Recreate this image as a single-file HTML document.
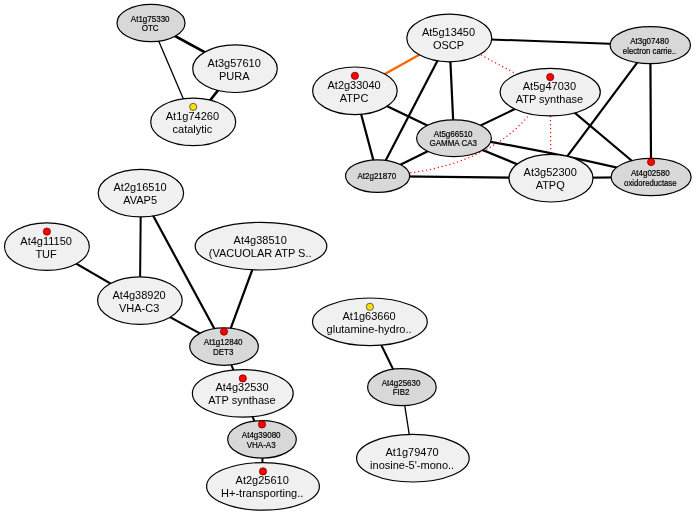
<!DOCTYPE html><html><head><meta charset="utf-8"><style>html,body{margin:0;padding:0;background:#fff;}svg{display:block;will-change:transform;}text{font-family:"Liberation Sans",sans-serif;fill:#000;}</style></head><body>
<svg width="696" height="515" viewBox="0 0 696 515">
<rect width="696" height="515" fill="#fff"/>
<line x1="151" y1="23" x2="235" y2="68.7" stroke="#000" stroke-width="2.6"/>
<line x1="151" y1="23" x2="193.2" y2="121.9" stroke="#000" stroke-width="1.3"/>
<line x1="235" y1="68.7" x2="193.2" y2="121.9" stroke="#000" stroke-width="2.6"/>
<line x1="449.3" y1="38" x2="354.9" y2="90.8" stroke="#ff6600" stroke-width="2.3"/>
<line x1="449.3" y1="38" x2="650.3" y2="45.2" stroke="#000" stroke-width="2"/>
<line x1="449.3" y1="38" x2="377.6" y2="176.1" stroke="#000" stroke-width="2.2"/>
<line x1="449.3" y1="38" x2="454" y2="138.2" stroke="#000" stroke-width="2.2"/>
<line x1="449.3" y1="38" x2="550.2" y2="92.1" stroke="#f00" stroke-width="1.2" stroke-dasharray="1.2,2.8"/>
<line x1="354.9" y1="90.8" x2="377.6" y2="176.1" stroke="#000" stroke-width="2.2"/>
<line x1="354.9" y1="90.8" x2="454" y2="138.2" stroke="#000" stroke-width="2.2"/>
<line x1="550.2" y1="92.1" x2="454" y2="138.2" stroke="#000" stroke-width="2.2"/>
<path d="M533,110.5 L529.1,114.9 C500.5,149.5 456.4,166.2 412.8,172.5 L405,173.5" fill="none" stroke="#f00" stroke-width="1.2" stroke-dasharray="1.2,2.8"/>
<line x1="550.2" y1="92.1" x2="551" y2="178.2" stroke="#f00" stroke-width="1.2" stroke-dasharray="1.2,2.8"/>
<line x1="550.2" y1="92.1" x2="651.1" y2="177" stroke="#000" stroke-width="2.2"/>
<line x1="650.3" y1="45.2" x2="551" y2="178.2" stroke="#000" stroke-width="2.2"/>
<line x1="650.3" y1="45.2" x2="651.1" y2="177" stroke="#000" stroke-width="2.2"/>
<line x1="454" y1="138.2" x2="377.6" y2="176.1" stroke="#000" stroke-width="2.2"/>
<line x1="454" y1="138.2" x2="551" y2="178.2" stroke="#000" stroke-width="2.2"/>
<path d="M454,135.6 Q552.5,151.4 651,175.8" fill="none" stroke="#000" stroke-width="2.2"/>
<line x1="377.6" y1="176.1" x2="551" y2="178.2" stroke="#000" stroke-width="2.2"/>
<line x1="551" y1="178.2" x2="651.1" y2="177" stroke="#000" stroke-width="2.2"/>
<line x1="140.9" y1="193.1" x2="139.9" y2="300.6" stroke="#000" stroke-width="2"/>
<line x1="140.9" y1="193.1" x2="224" y2="346.6" stroke="#000" stroke-width="2.2"/>
<line x1="46.9" y1="246.6" x2="139.9" y2="300.6" stroke="#000" stroke-width="2.2"/>
<line x1="261" y1="246.2" x2="224" y2="346.6" stroke="#000" stroke-width="2.2"/>
<line x1="139.9" y1="300.6" x2="224" y2="346.6" stroke="#000" stroke-width="2.2"/>
<line x1="224" y1="346.6" x2="242.8" y2="393.4" stroke="#000" stroke-width="2"/>
<line x1="242.8" y1="393.4" x2="262" y2="439.4" stroke="#000" stroke-width="2"/>
<line x1="262" y1="439.4" x2="263" y2="486.4" stroke="#000" stroke-width="2"/>
<line x1="369.9" y1="321.8" x2="401.9" y2="387.2" stroke="#000" stroke-width="2"/>
<line x1="401.9" y1="387.2" x2="412.9" y2="458.2" stroke="#000" stroke-width="1.3"/>
<ellipse cx="151" cy="23" rx="34" ry="18.7" fill="#d8d8d8" stroke="#000" stroke-width="1.2"/>
<text transform="translate(150.2,21.8) scale(0.9,1)" font-size="8.9" text-anchor="middle" stroke="#000" stroke-width="0.2">At1g75330</text>
<text transform="translate(150.2,31.2) scale(0.9,1)" font-size="8.9" text-anchor="middle" stroke="#000" stroke-width="0.2">OTC</text>
<ellipse cx="235" cy="68.7" rx="42.3" ry="23.8" fill="#f0f0f0" stroke="#000" stroke-width="1.2"/>
<text x="234.2" y="66.6" font-size="11" text-anchor="middle">At3g57610</text>
<text x="234.2" y="79.6" font-size="11" text-anchor="middle">PURA</text>
<ellipse cx="193.2" cy="121.9" rx="42.5" ry="23.8" fill="#f0f0f0" stroke="#000" stroke-width="1.2"/>
<text x="192.4" y="119.8" font-size="11" text-anchor="middle">At1g74260</text>
<text x="192.4" y="132.8" font-size="11" text-anchor="middle">catalytic</text>
<circle cx="193.2" cy="106.9" r="3.6" fill="#ffe000" stroke="#444" stroke-width="0.8"/>
<ellipse cx="449.3" cy="38" rx="42.5" ry="23.8" fill="#f0f0f0" stroke="#000" stroke-width="1.2"/>
<text x="448.5" y="35.9" font-size="11" text-anchor="middle">At5g13450</text>
<text x="448.5" y="48.9" font-size="11" text-anchor="middle">OSCP</text>
<ellipse cx="650.3" cy="45.2" rx="40.2" ry="18.5" fill="#d8d8d8" stroke="#000" stroke-width="1.2"/>
<text transform="translate(649.5,44.0) scale(0.9,1)" font-size="8.9" text-anchor="middle" stroke="#000" stroke-width="0.2">At3g07480</text>
<text transform="translate(649.5,53.9) scale(0.9,1)" font-size="8.6" text-anchor="middle" stroke="#000" stroke-width="0.2">electron carrie..</text>
<ellipse cx="354.9" cy="90.8" rx="42.3" ry="23.8" fill="#f0f0f0" stroke="#000" stroke-width="1.2"/>
<text x="354.1" y="88.7" font-size="11" text-anchor="middle">At2g33040</text>
<text x="354.1" y="101.7" font-size="11" text-anchor="middle">ATPC</text>
<circle cx="354.9" cy="75.8" r="3.6" fill="#f00" stroke="#700" stroke-width="0.8"/>
<ellipse cx="550.2" cy="92.1" rx="50.1" ry="23.8" fill="#f0f0f0" stroke="#000" stroke-width="1.2"/>
<text x="549.4" y="90.0" font-size="11" text-anchor="middle">At5g47030</text>
<text x="549.4" y="103.0" font-size="11" text-anchor="middle">ATP synthase</text>
<circle cx="550.2" cy="77.1" r="3.6" fill="#f00" stroke="#700" stroke-width="0.8"/>
<ellipse cx="454" cy="138.2" rx="37.4" ry="18.4" fill="#d8d8d8" stroke="#000" stroke-width="1.2"/>
<text transform="translate(453.2,137.0) scale(0.9,1)" font-size="8.9" text-anchor="middle" stroke="#000" stroke-width="0.2">At5g66510</text>
<text transform="translate(453.2,146.4) scale(0.9,1)" font-size="8.9" text-anchor="middle" stroke="#000" stroke-width="0.2">GAMMA CA3</text>
<ellipse cx="377.6" cy="176.1" rx="32.1" ry="16.3" fill="#d8d8d8" stroke="#000" stroke-width="1.2"/>
<text transform="translate(376.8,179.1) scale(0.9,1)" font-size="8.9" text-anchor="middle" stroke="#000" stroke-width="0.2">At2g21870</text>
<ellipse cx="551" cy="178.2" rx="42" ry="23.8" fill="#f0f0f0" stroke="#000" stroke-width="1.2"/>
<text x="550.2" y="176.1" font-size="11" text-anchor="middle">At3g52300</text>
<text x="550.2" y="189.1" font-size="11" text-anchor="middle">ATPQ</text>
<ellipse cx="651.1" cy="177" rx="40" ry="18.7" fill="#d8d8d8" stroke="#000" stroke-width="1.2"/>
<text transform="translate(650.3,175.8) scale(0.9,1)" font-size="8.9" text-anchor="middle" stroke="#000" stroke-width="0.2">At4g02580</text>
<text transform="translate(650.3,185.7) scale(0.9,1)" font-size="8.6" text-anchor="middle" stroke="#000" stroke-width="0.2">oxidoreductase</text>
<circle cx="651.1" cy="162" r="3.6" fill="#f00" stroke="#700" stroke-width="0.8"/>
<ellipse cx="140.9" cy="193.1" rx="42.7" ry="23.8" fill="#f0f0f0" stroke="#000" stroke-width="1.2"/>
<text x="140.1" y="191.0" font-size="11" text-anchor="middle">At2g16510</text>
<text x="140.1" y="204.0" font-size="11" text-anchor="middle">AVAP5</text>
<ellipse cx="46.9" cy="246.6" rx="42.4" ry="23.8" fill="#f0f0f0" stroke="#000" stroke-width="1.2"/>
<text x="46.1" y="244.5" font-size="11" text-anchor="middle">At4g11150</text>
<text x="46.1" y="257.5" font-size="11" text-anchor="middle">TUF</text>
<circle cx="46.9" cy="231.6" r="3.6" fill="#f00" stroke="#700" stroke-width="0.8"/>
<ellipse cx="261" cy="246.2" rx="65.8" ry="23.8" fill="#f0f0f0" stroke="#000" stroke-width="1.2"/>
<text x="260.2" y="244.1" font-size="11" text-anchor="middle">At4g38510</text>
<text x="260.2" y="257.1" font-size="11" text-anchor="middle">(VACUOLAR ATP S..</text>
<ellipse cx="139.9" cy="300.6" rx="42.3" ry="23.8" fill="#f0f0f0" stroke="#000" stroke-width="1.2"/>
<text x="139.1" y="298.5" font-size="11" text-anchor="middle">At4g38920</text>
<text x="139.1" y="311.5" font-size="11" text-anchor="middle">VHA-C3</text>
<ellipse cx="224" cy="346.6" rx="34.3" ry="18.7" fill="#d8d8d8" stroke="#000" stroke-width="1.2"/>
<text transform="translate(223.2,345.4) scale(0.9,1)" font-size="8.9" text-anchor="middle" stroke="#000" stroke-width="0.2">At1g12840</text>
<text transform="translate(223.2,354.8) scale(0.9,1)" font-size="8.9" text-anchor="middle" stroke="#000" stroke-width="0.2">DET3</text>
<circle cx="224" cy="331.6" r="3.6" fill="#f00" stroke="#700" stroke-width="0.8"/>
<ellipse cx="242.8" cy="393.4" rx="50.4" ry="23.8" fill="#f0f0f0" stroke="#000" stroke-width="1.2"/>
<text x="242.0" y="391.3" font-size="11" text-anchor="middle">At4g32530</text>
<text x="242.0" y="404.3" font-size="11" text-anchor="middle">ATP synthase</text>
<circle cx="242.8" cy="378.4" r="3.6" fill="#f00" stroke="#700" stroke-width="0.8"/>
<ellipse cx="262" cy="439.4" rx="34.3" ry="18.7" fill="#d8d8d8" stroke="#000" stroke-width="1.2"/>
<text transform="translate(261.2,438.2) scale(0.9,1)" font-size="8.9" text-anchor="middle" stroke="#000" stroke-width="0.2">At4g39080</text>
<text transform="translate(261.2,447.6) scale(0.9,1)" font-size="8.9" text-anchor="middle" stroke="#000" stroke-width="0.2">VHA-A3</text>
<circle cx="262" cy="424.4" r="3.6" fill="#f00" stroke="#700" stroke-width="0.8"/>
<ellipse cx="263" cy="486.4" rx="56.4" ry="23.8" fill="#f0f0f0" stroke="#000" stroke-width="1.2"/>
<text x="262.2" y="484.3" font-size="11" text-anchor="middle">At2g25610</text>
<text x="262.2" y="497.3" font-size="11" text-anchor="middle">H+-transporting..</text>
<circle cx="263" cy="471.4" r="3.6" fill="#f00" stroke="#700" stroke-width="0.8"/>
<ellipse cx="369.9" cy="321.8" rx="57.4" ry="23.8" fill="#f0f0f0" stroke="#000" stroke-width="1.2"/>
<text x="369.1" y="319.7" font-size="11" text-anchor="middle">At1g63660</text>
<text x="369.1" y="332.7" font-size="11" text-anchor="middle">glutamine-hydro..</text>
<circle cx="369.9" cy="306.8" r="3.6" fill="#ffe000" stroke="#444" stroke-width="0.8"/>
<ellipse cx="401.9" cy="387.2" rx="34.3" ry="18.5" fill="#d8d8d8" stroke="#000" stroke-width="1.2"/>
<text transform="translate(401.1,386.0) scale(0.9,1)" font-size="8.9" text-anchor="middle" stroke="#000" stroke-width="0.2">At4g25630</text>
<text transform="translate(401.1,395.4) scale(0.9,1)" font-size="8.9" text-anchor="middle" stroke="#000" stroke-width="0.2">FIB2</text>
<ellipse cx="412.9" cy="458.2" rx="56.3" ry="23.8" fill="#f0f0f0" stroke="#000" stroke-width="1.2"/>
<text x="412.1" y="456.1" font-size="11" text-anchor="middle">At1g79470</text>
<text x="412.1" y="469.1" font-size="11" text-anchor="middle">inosine-5'-mono..</text>
</svg></body></html>
